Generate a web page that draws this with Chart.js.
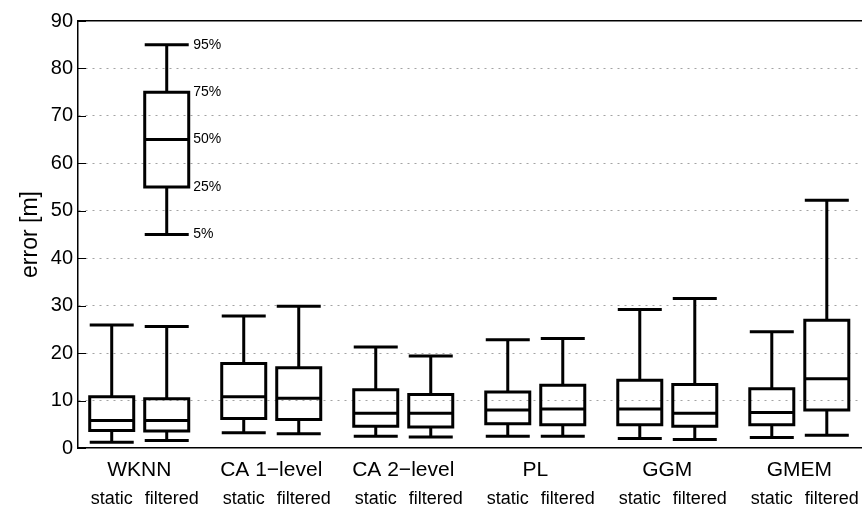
<!DOCTYPE html>
<html>
<head>
<meta charset="utf-8">
<script src="https://cdn.jsdelivr.net/npm/chart.js@4/dist/chart.umd.min.js"></script>
<style>
  html, body { margin: 0; padding: 0; background: #fff; }
  canvas { display: block; }
</style>
</head>
<body>
<canvas id="chart" width="862" height="507"></canvas>
<script>
// Localisation methods and the two test modes
const methods = ['WKNN', 'CA 1\u2212level', 'CA 2\u2212level', 'PL', 'GGM', 'GMEM'];
const modes = ['static', 'filtered'];

// Error percentiles [m] for the static runs
const staticP5  = [1.2, 3.2, 2.5, 2.5, 2.0, 2.2];
const staticP25 = [3.7, 6.2, 4.6, 5.1, 4.9, 4.9];
const staticP50 = [5.8, 10.8, 7.3, 8.0, 8.2, 7.5];
const staticP75 = [10.8, 17.8, 12.3, 11.8, 14.3, 12.5];
const staticP95 = [25.9, 27.8, 21.3, 22.8, 29.2, 24.5];

// Error percentiles [m] for the filtered runs
const filteredP5  = [1.6, 3.0, 2.3, 2.5, 1.8, 2.7];
const filteredP25 = [3.6, 6.0, 4.4, 4.9, 4.6, 8.0];
const filteredP50 = [5.8, 10.5, 7.3, 8.2, 7.3, 14.6];
const filteredP75 = [10.4, 16.9, 11.3, 13.2, 13.4, 26.9];
const filteredP95 = [25.6, 29.9, 19.4, 23.1, 31.5, 52.2];

// Explanatory key box: which line stands for which percentile
const keyValues = [45, 55, 65, 75, 85];
const keyLabels = ['5%', '25%', '50%', '75%', '95%'];

// y axis ticks
const yTicks = [0, 10, 20, 30, 40, 50, 60, 70, 80, 90];

// ---- layout of the boxes along the x axis ----
const GROUP_STEP = 2.4;   // distance between method groups
const BOX_HALF = 0.4;     // half width of a box / whisker cap
const X_MIN = 0.387, X_MAX = 14.64;
const KEY_X = 2;          // key box sits above the WKNN filtered box
const FILTERED_LABEL_SHIFT = 0.09;

const boxX = (g, m) => 1 + g * GROUP_STEP + m;
const groupCenter = g => boxX(g, 0) + 0.5;

// one polyline per box: outline, median, whiskers and caps, split by gaps
function boxPoints(x, p5, p25, p50, p75, p95) {
  const L = x - BOX_HALF, R = x + BOX_HALF;
  const gap = { x: x, y: null };
  return [
    { x: L, y: p25 }, { x: R, y: p25 }, { x: R, y: p75 }, { x: L, y: p75 }, { x: L, y: p25 }, { x: R, y: p25 }, gap,
    { x: L, y: p50 }, { x: R, y: p50 }, gap,
    { x: x, y: p75 }, { x: x, y: p95 }, gap,
    { x: L, y: p95 }, { x: R, y: p95 }, gap,
    { x: x, y: p25 }, { x: x, y: p5 }, gap,
    { x: L, y: p5 }, { x: R, y: p5 }
  ];
}

const lineStyle = {
  showLine: true,
  borderColor: '#000',
  borderWidth: 3,
  pointRadius: 0,
  pointHoverRadius: 0,
  fill: false,
  spanGaps: false,
  borderJoinStyle: 'miter',
  borderCapStyle: 'butt'
};

const datasets = [];
methods.forEach((name, g) => {
  datasets.push(Object.assign({
    label: name + ' ' + modes[0],
    data: boxPoints(boxX(g, 0), staticP5[g], staticP25[g], staticP50[g], staticP75[g], staticP95[g])
  }, lineStyle));
  datasets.push(Object.assign({
    label: name + ' ' + modes[1],
    data: boxPoints(boxX(g, 1), filteredP5[g], filteredP25[g], filteredP50[g], filteredP75[g], filteredP95[g])
  }, lineStyle));
});
datasets.push(Object.assign({
  label: 'key',
  data: boxPoints(KEY_X, keyValues[0], keyValues[1], keyValues[2], keyValues[3], keyValues[4])
}, lineStyle));

const FONT = "'Liberation Sans', Arial, Helvetica, sans-serif";
const TEXT = '#000';

// short inward tick marks on the y axis plus the percentile captions of the key box
const extras = {
  id: 'extras',
  afterDatasetsDraw(chart) {
    const { ctx, scales: { x, y } } = chart;
    ctx.save();
    ctx.strokeStyle = '#000';
    ctx.lineWidth = 1;
    yTicks.forEach(v => {
      const py = Math.round(y.getPixelForValue(v)) + 0.5;
      ctx.beginPath();
      ctx.moveTo(x.left, py);
      ctx.lineTo(x.left + 8, py);
      ctx.stroke();
    });
    ctx.fillStyle = TEXT;
    ctx.font = '14px ' + FONT;
    ctx.textAlign = 'left';
    ctx.textBaseline = 'middle';
    const lx = x.getPixelForValue(KEY_X + BOX_HALF) + 4.5;
    keyValues.forEach((v, i) => {
      ctx.fillText(keyLabels[i], lx, y.getPixelForValue(v));
    });
    ctx.restore();
  }
};

new Chart(document.getElementById('chart'), {
  type: 'scatter',
  data: { datasets },
  plugins: [extras],
  options: {
    responsive: false,
    animation: false,
    events: [],
    devicePixelRatio: 1,
    layout: { padding: 0 },
    plugins: { legend: { display: false }, tooltip: { enabled: false } },
    scales: {
      x: {
        type: 'linear',
        position: 'bottom',
        weight: 0,
        min: X_MIN, max: X_MAX,
        grid: { display: false },
        border: { display: true, color: '#000', width: 1.5 },
        afterBuildTicks: s => { s.ticks = methods.map((_, g) => ({ value: groupCenter(g) })); },
        afterFit: s => { s.height = 31; s.paddingLeft = 0; s.paddingRight = 0; },
        ticks: {
          autoSkip: false, maxRotation: 0, minRotation: 0, padding: 2,
          color: TEXT, font: { family: FONT, size: 21 },
          callback: (v, i) => methods[i]
        }
      },
      xSub: {
        type: 'linear',
        position: 'bottom',
        weight: 1,
        min: X_MIN, max: X_MAX,
        grid: { display: false },
        border: { display: false },
        afterBuildTicks: s => {
          const t = [];
          methods.forEach((_, g) => {
            t.push({ value: boxX(g, 0) });
            t.push({ value: boxX(g, 1) + FILTERED_LABEL_SHIFT });
          });
          s.ticks = t;
        },
        afterFit: s => { s.height = 28; s.paddingLeft = 0; s.paddingRight = 0; },
        ticks: {
          autoSkip: false, maxRotation: 0, minRotation: 0, padding: 1,
          color: TEXT, font: { family: FONT, size: 18 },
          callback: (v, i) => modes[i % 2]
        }
      },
      xTop: {
        type: 'linear',
        position: 'top',
        min: X_MIN, max: X_MAX,
        grid: { display: false },
        border: { display: true, color: '#000', width: 1.5 },
        ticks: { display: false },
        afterFit: s => { s.height = 21; s.paddingLeft = 0; s.paddingRight = 0; }
      },
      y: {
        type: 'linear',
        position: 'left',
        min: 0, max: 90,
        afterBuildTicks: s => { s.ticks = yTicks.map(v => ({ value: v })); },
        afterFit: s => { s.width = 78; s.paddingTop = 0; s.paddingBottom = 0; },
        grid: {
          drawTicks: false,
          lineWidth: 1,
          color: c => (c.tick && (c.tick.value === 0 || c.tick.value === 90)) ? 'rgba(0,0,0,0)' : '#a3a3a3'
        },
        border: { display: true, color: '#000', width: 1.5, dash: [2, 5] },
        ticks: {
          padding: 5,
          color: TEXT, font: { family: FONT, size: 20 }
        },
        title: {
          display: true,
          text: 'error [m]',
          color: TEXT,
          font: { family: FONT, size: 23 },
          padding: { top: 17, bottom: 0 }
        }
      }
    }
  }
});
</script>
</body>
</html>
